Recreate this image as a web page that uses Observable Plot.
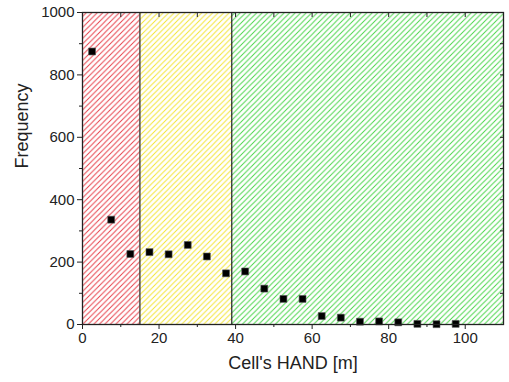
<!DOCTYPE html>
<html><head><meta charset="utf-8">
<script src="https://cdn.jsdelivr.net/npm/d3@7"></script>
<script src="https://cdn.jsdelivr.net/npm/@observablehq/plot@0.6"></script>
<style>
body{margin:0;background:#fff;}
svg.defs{position:absolute;width:0;height:0;}
</style>
</head><body>
<svg class="defs" width="0" height="0"><defs>
<pattern id="hatchRed" patternUnits="userSpaceOnUse" width="5.5" height="5.5"><path d="M-1,6.5L6.5,-1M-2,2L2,-2M3.5,7.5L7.5,3.5" stroke="#e63a44" stroke-width="0.95"/></pattern>
<pattern id="hatchYellow" patternUnits="userSpaceOnUse" width="5.5" height="5.5"><path d="M-1,6.5L6.5,-1M-2,2L2,-2M3.5,7.5L7.5,3.5" stroke="#f2e42e" stroke-width="0.95"/></pattern>
<pattern id="hatchGreen" patternUnits="userSpaceOnUse" width="5.5" height="5.5"><path d="M-1,6.5L6.5,-1M-2,2L2,-2M3.5,7.5L7.5,3.5" stroke="#44d444" stroke-width="0.95"/></pattern>
</defs></svg>
<div id="chart"></div>
<script>
// Data
const binCenters = [2.5, 7.5, 12.5, 17.5, 22.5, 27.5, 32.5, 37.5, 42.5, 47.5, 52.5, 57.5, 62.5, 67.5, 72.5, 77.5, 82.5, 87.5, 92.5, 97.5];
const frequency  = [875, 336, 226, 232, 225, 255, 218, 164, 170, 115, 82, 82, 27, 22, 9, 10, 7, 2, 1, 2];
const zoneStart = [0, 15, 39];
const zoneEnd   = [15, 39, 110];
const zoneFill  = ["url(#hatchRed)", "url(#hatchYellow)", "url(#hatchGreen)"];
const boundaries = [15, 39];
const xTicks = [0, 20, 40, 60, 80, 100];
const xMinor = [10, 30, 50, 70, 90];
const yTicks = [0, 200, 400, 600, 800, 1000];
const yMinor = [100, 300, 500, 700, 900];
const xLabel = "Cell's HAND [m]";
const yLabel = "Frequency";

const points = binCenters.map((x, i) => ({x, y: frequency[i]}));
const zones = zoneStart.map((s, i) => ({x1: s, x2: zoneEnd[i], fill: zoneFill[i]}));

const axisColor = "#222";
const fmt = d => String(d);
const chart = Plot.plot({
  width: 509,
  height: 382,
  marginLeft: 82,
  marginRight: 6,
  marginTop: 12,
  marginBottom: 58,
  style: {fontFamily: "'Liberation Sans', Arial, sans-serif", fontSize: "15px", color: axisColor, background: "#fff"},
  x: {domain: [0, 110], axis: null},
  y: {domain: [0, 1000], axis: null},
  marks: [
    ...zones.map(z => Plot.rect([z], {x1: "x1", x2: "x2", y1: 0, y2: 1000, fill: z.fill})),
    Plot.ruleX(boundaries, {stroke: axisColor, strokeWidth: 1.2}),
    Plot.dot(points, {x: "x", y: "y", symbol: "square", r: 3.9, fill: "#000", stroke: "#555", strokeWidth: 0.6}),
    // bottom axis
    Plot.axisX(xTicks, {anchor: "bottom", tickSize: 5, tickPadding: 3, tickFormat: fmt, label: null, stroke: axisColor, fontSize: 15}),
    Plot.axisX(xMinor, {anchor: "bottom", tickSize: 3, text: null, label: null, stroke: axisColor}),
    // top axis (ticks inward)
    Plot.axisX(xTicks.concat(xMinor), {anchor: "top", tickSize: -4, text: null, label: null, stroke: axisColor}),
    // left axis
    Plot.axisY(yTicks, {anchor: "left", tickSize: 5, tickPadding: 3, tickFormat: fmt, label: null, stroke: axisColor, fontSize: 15}),
    Plot.axisY(yMinor, {anchor: "left", tickSize: 3, text: null, label: null, stroke: axisColor}),
    // right axis (ticks inward)
    Plot.axisY(yTicks.concat(yMinor), {anchor: "right", tickSize: -4, text: null, label: null, stroke: axisColor}),
    Plot.frame({stroke: axisColor, strokeWidth: 1.3}),
    Plot.text([xLabel], {frameAnchor: "bottom", dy: 44, text: d => d, fontSize: 18, fill: axisColor}),
    Plot.text([yLabel], {frameAnchor: "left", dx: -60, rotate: -90, text: d => d, fontSize: 18, fill: axisColor})
  ]
});
document.getElementById("chart").appendChild(chart);
</script>
</body></html>
